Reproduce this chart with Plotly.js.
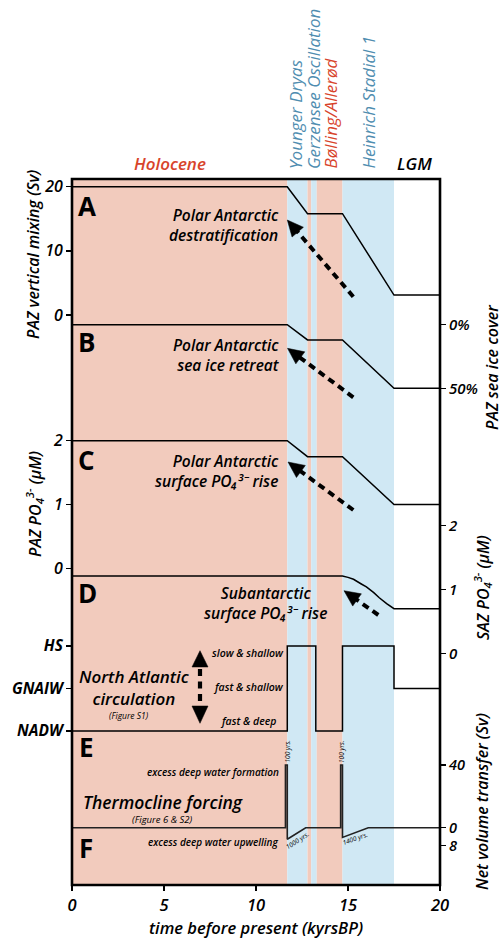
<!DOCTYPE html>
<html><head><meta charset="utf-8">
<script src="https://cdn.plot.ly/plotly-3.0.1.min.js"></script>
<style>html,body{margin:0;padding:0;background:#fff}</style>
</head><body><div id="chart" style="width:502px;height:939px"></div>
<script>
// ---------------- data ----------------
const stepTimes   = [0, 11.7, 12.8, 14.7, 17.5, 20];          // kyr BP
const pazMixing   = [20, 20, 15.8, 15.8, 3.1, 3.1];           // Sv
const pazSeaIce   = [0, 0, 12, 12, 50, 50];                   // %
const pazPO4      = [2, 2, 1.75, 1.75, 1, 1];                 // uM
const sazTimes    = [0, 14.7, 15.0, 15.3, 15.7, 16.0, 16.4, 16.7, 17.1, 17.5, 20];
const sazPO4      = [1.21, 1.21, 1.19, 1.16, 1.09, 1.04, 0.95, 0.87, 0.78, 0.70, 0.70];
const circTimes   = [0, 11.7, 13.25, 14.7, 17.5, 20];
const circState   = [0, 2, 0, 2, 1, 1];                        // 0 NADW, 1 GNAIW, 2 HS
const circLabels  = ['NADW', 'GNAIW', 'HS'];
const transferTimes = [0, 11.6, 11.6, 11.7, 11.7, 12.7, 14.6, 14.6, 14.7, 14.7, 16.1, 20];
const transferSv    = [0, 0, 40, 40, -7.4, 0, 0, 40, 40, -6.2, 0, 0];
const transferTickVals = [-11.5, 0, 40];
const transferTickText = ['8', '0', '40'];
const seaIceTickVals = [0, 50];
const seaIceTickText = ['0%', '50%'];
const periodStart = [0, 11.7, 12.8, 13.0, 13.3, 14.7];
const periodEnd   = [11.7, 12.8, 13.0, 13.3, 14.7, 17.5];
const periodKind  = ['warm', 'cold', 'warm', 'cold', 'warm', 'cold'];
const xTicks = [0, 5, 10, 15, 20];

// ---------------- geometry helpers ----------------
const W = 502, H = 939, L = 72, R = 440, T = 179, B = 885;
const px = x => (x - L) / (R - L);
const py = y => (B - y) / (B - T);
function rng(v1, p1, v2, p2) {
  const s = (p2 - p1) / (v2 - v1);
  return [v1 + (B - p1) / s, v1 + (T - p1) / s];
}
const FF = '"Open Sans", "Noto Sans", sans-serif';
const fnt = (size, color = '#000', weight = 600, style = 'italic') => ({family: FF, size, color, weight, style});
const RED = '#d8442b', BLUE = '#4f8db0';
const PINK = '#f2cbbd', SKY = '#d0e8f4';

function ann(text, x, y, font, o = {}) {
  return Object.assign({text, x: px(x), y: py(y), xref: 'paper', yref: 'paper', showarrow: false,
    xanchor: 'center', yanchor: 'middle', font, borderpad: 0}, o);
}

// ---------------- traces ----------------
const line = {color: '#000', width: 1.5};
const base = {mode: 'lines', line, hoverinfo: 'skip', showlegend: false, cliponaxis: false};
const traces = [
  Object.assign({x: stepTimes, y: pazMixing, yaxis: 'y'}, base),
  Object.assign({x: stepTimes, y: pazSeaIce, yaxis: 'y2'}, base),
  Object.assign({x: stepTimes, y: pazPO4, yaxis: 'y3'}, base),
  Object.assign({x: sazTimes, y: sazPO4, yaxis: 'y4'}, base),
  Object.assign({x: circTimes, y: circState, yaxis: 'y5'}, base, {line: {color: '#000', width: 1.5, shape: 'hv'}}),
  Object.assign({x: transferTimes, y: transferSv, yaxis: 'y6'}, base, {line: {color: '#222', width: 1.6}})
];

// ---------------- shapes ----------------
const shapes = [];
periodStart.forEach((s, i) => {
  shapes.push({type: 'rect', xref: 'x', yref: 'paper', x0: s, x1: periodEnd[i], y0: 0, y1: 1,
    fillcolor: periodKind[i] === 'warm' ? PINK : SKY, line: {width: 0}, layer: 'below'});
});
shapes.push({type: 'rect', xref: 'paper', yref: 'paper', x0: 0, x1: 1, y0: 0, y1: 1,
  line: {color: '#000', width: 2.6}, layer: 'above'});

function arrow(tx, ty, hx, hy, headLen = 16, headW = 15) {
  const dx = hx - tx, dy = hy - ty, len = Math.hypot(dx, dy);
  const ux = dx / len, uy = dy / len;
  const bx = hx - ux * headLen, by = hy - uy * headLen;
  shapes.push({type: 'line', xref: 'paper', yref: 'paper', x0: px(tx), y0: py(ty),
    x1: px(bx + ux * 1), y1: py(by + uy * 1), line: {color: '#000', width: 4, dash: '7px,5px'}});
  const nx = -uy * headW / 2, ny = ux * headW / 2;
  shapes.push({type: 'path', xref: 'paper', yref: 'paper',
    path: `M ${px(hx)} ${py(hy)} L ${px(bx + nx)} ${py(by + ny)} L ${px(bx - nx)} ${py(by - ny)} Z`,
    fillcolor: '#000', line: {color: '#000', width: 0.5}});
}
arrow(353.3, 296.7, 287.3, 220);
arrow(353.3, 397.3, 287.5, 348.3);
arrow(353.3, 510, 288, 462);
arrow(378.3, 615, 344, 590.7);
// vertical double arrow (North Atlantic circulation)
function head(x, tipY, baseY, w) {
  shapes.push({type: 'path', xref: 'paper', yref: 'paper',
    path: `M ${px(x)} ${py(tipY)} L ${px(x - w / 2)} ${py(baseY)} L ${px(x + w / 2)} ${py(baseY)} Z`,
    fillcolor: '#000', line: {color: '#000', width: 0.5}});
}
head(200, 650.7, 667, 16);
head(200, 723.3, 706, 16);
shapes.push({type: 'line', xref: 'paper', yref: 'paper', x0: px(200), x1: px(200), y0: py(669), y1: py(705),
  line: {color: '#000', width: 4.2, dash: '7px,5.5px'}});

// ---------------- annotations ----------------
const R_ = {xanchor: 'right', align: 'right'};
const annotations = [
  ann('Holocene', 170, 164, fnt(17, RED)),
  ann('LGM', 414, 164, fnt(17)),
  ann('Younger Dryas', 295.5, 170, fnt(17, BLUE, 500), {textangle: -90, yanchor: 'bottom'}),
  ann('Gerzensee Oscillation', 314, 170, fnt(17, BLUE, 500), {textangle: -90, yanchor: 'bottom'}),
  ann('Bølling/Allerød', 330, 170, fnt(17, RED, 500), {textangle: -90, yanchor: 'bottom'}),
  ann('Heinrich Stadial 1', 368, 170, fnt(17, BLUE, 500), {textangle: -90, yanchor: 'bottom'}),
  // axis titles
  ann('PAZ vertical mixing (Sv)', 33, 255, fnt(16), {textangle: -90}),
  ann('PAZ PO<sub>4</sub><sup>3-</sup> (µM)', 34, 504, fnt(16), {textangle: -90}),
  ann('PAZ sea ice cover', 492, 367, fnt(16), {textangle: -90}),
  ann('SAZ PO<sub>4</sub><sup>3-</sup> (µM)', 482, 588, fnt(16), {textangle: -90}),
  ann('Net volume transfer (Sv)', 482, 802, fnt(16), {textangle: -90}),
  ann('time before present (kyrsBP)', 256, 927, fnt(16.5)),
  // panel letters
  ann('A', 86.5, 206, fnt(26, '#000', 700, 'normal')),
  ann('B', 86.5, 342, fnt(26, '#000', 700, 'normal')),
  ann('C', 86.5, 460, fnt(26, '#000', 700, 'normal')),
  ann('D', 87, 593, fnt(26, '#000', 700, 'normal')),
  ann('E', 86, 747, fnt(26, '#000', 700, 'normal')),
  ann('F', 86, 848, fnt(26, '#000', 700, 'normal')),
  // panel texts
  ann('Polar Antarctic<br>destratification', 279.5, 225.5, fnt(15.5), R_),
  ann('Polar Antarctic<br>sea ice retreat', 280.5, 354.5, fnt(15.5), R_),
  ann('Polar Antarctic<br>surface PO₄³⁻ rise', 279.5, 471, fnt(15.5), R_),
  ann('Subantarctic<br>surface PO₄³⁻ rise', 265, 602.5, fnt(15.5)),
  ann('slow &amp; shallow', 248, 652.7, fnt(10.5)),
  ann('fast &amp; shallow', 248, 686.7, fnt(10.5)),
  ann('fast &amp; deep', 248, 720.7, fnt(10.5)),
  ann('North Atlantic<br>circulation', 134, 687.5, fnt(17)),
  ann('(Figure S1)', 129, 715, fnt(8.5, '#000', 500)),
  ann('excess deep water formation', 279.5, 771.7, fnt(10), {xanchor: 'right'}),
  ann('Thermocline forcing', 163, 801.5, fnt(17.5)),
  ann('(Figure 6 &amp; S2)', 162.5, 819.5, fnt(9.5, '#000', 500)),
  ann('excess deep water upwelling', 279.5, 841.7, fnt(10), {xanchor: 'right'}),
  ann('100 yrs.', 286.5, 752, fnt(6.5, '#000', 500), {textangle: -90}),
  ann('100 yrs.', 341, 752, fnt(6.5, '#000', 500), {textangle: -90}),
  ann('1000 yrs.', 297, 840, fnt(6.5, '#000', 500), {textangle: -33}),
  ann('1400 yrs.', 355, 838.5, fnt(6.5, '#000', 500), {textangle: -20})
];

// ---------------- axes ----------------
const ax = {showgrid: false, zeroline: false, showline: false, ticks: 'outside', ticklen: 5,
  tickwidth: 1.5, tickcolor: '#000', tickfont: fnt(16), fixedrange: true};
const layout = {
  width: W, height: H,
  margin: {l: L, r: W - R, t: T, b: H - B, pad: 0},
  paper_bgcolor: '#fff', plot_bgcolor: '#fff',
  showlegend: false,
  xaxis: Object.assign({}, ax, {range: [0, 20], tickvals: xTicks, tickfont: fnt(16.5)}),
  yaxis: Object.assign({}, ax, {range: rng(20, 186.7, 0, 315), tickvals: [0, 10, 20]}),
  yaxis2: Object.assign({}, ax, {side: 'right', overlaying: 'y', anchor: 'x', range: rng(0, 324.7, 50, 388.3),
    tickvals: seaIceTickVals, ticktext: seaIceTickText, tickfont: fnt(15)}),
  yaxis3: Object.assign({}, ax, {overlaying: 'y', anchor: 'x', range: rng(2, 440.7, 0, 568.3), tickvals: [0, 1, 2]}),
  yaxis4: Object.assign({}, ax, {side: 'right', overlaying: 'y', anchor: 'x', range: rng(2, 525.7, 0, 653.3),
    tickvals: [0, 1, 2], tickfont: fnt(15)}),
  yaxis5: Object.assign({}, ax, {overlaying: 'y', anchor: 'x', range: rng(2, 646, 0, 731),
    tickvals: [0, 1, 2], ticktext: circLabels, tickfont: fnt(15.5, '#000', 700)}),
  yaxis6: Object.assign({}, ax, {side: 'right', overlaying: 'y', anchor: 'x', range: rng(40, 765, 0, 827.7),
    tickvals: transferTickVals, ticktext: transferTickText, tickfont: fnt(14.5)}),
  shapes, annotations
};
Plotly.newPlot('chart', traces, layout, {staticPlot: true, displayModeBar: false});
</script>
</body></html>
